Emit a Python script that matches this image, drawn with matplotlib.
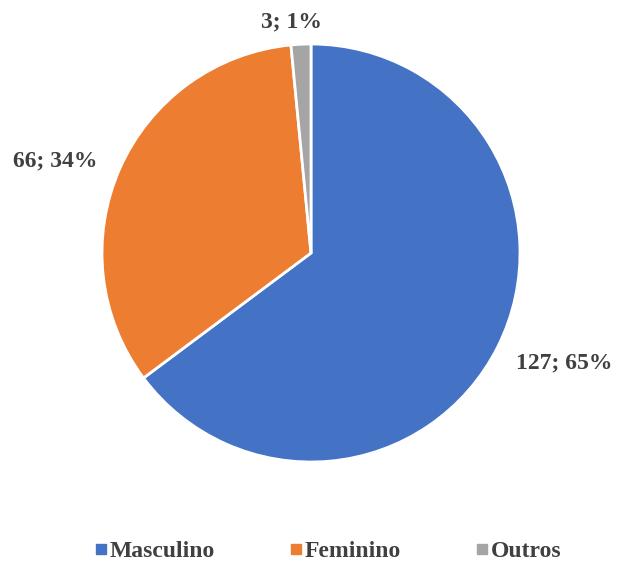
import numpy as np
import matplotlib.pyplot as plt
from matplotlib.lines import Line2D

# dados do gráfico
categorias = ["Masculino", "Feminino", "Outros"]
valores = [127, 66, 3]
percentuais = ["65%", "34%", "1%"]
cores = ["#4472C4", "#ED7D31", "#A5A5A5"]

plt.rcParams['font.family'] = ['Liberation Serif', 'DejaVu Serif']
cor_texto = "#404040"

fig = plt.figure(figsize=(6.17, 5.64), dpi=100)
r_px = 209
cx, cy = 311, 253
ax = fig.add_axes([(cx - r_px) / 617, (564 - cy - r_px) / 564, 2 * r_px / 617, 2 * r_px / 564])

wedges, _ = ax.pie(valores, colors=cores, startangle=90, counterclock=False,
                   wedgeprops=dict(edgecolor="white", linewidth=2))
ax.set_xlim(-1, 1)
ax.set_ylim(-1, 1)

# rótulos "valor; %" fora das fatias
dist = [1.32, 1.30, 1.11]
desvio = [3.2, 4.1, 2.1]
for w, v, p, d, da in zip(wedges, valores, percentuais, dist, desvio):
    ang = np.deg2rad((w.theta1 + w.theta2) / 2 + da)
    ax.text(d * np.cos(ang), d * np.sin(ang), f"{v}; {p}", ha="center", va="center",
            fontsize=17, fontweight="bold", color=cor_texto, clip_on=False)

handles = [Line2D([], [], marker="s", linestyle="", color=c, markersize=6.5) for c in cores]
leg = fig.legend(handles, categorias, loc="center", bbox_to_anchor=(0.53, 0.022), ncol=3,
                 frameon=False, handletextpad=0.05, columnspacing=3.05, handlelength=0.7,
                 prop=dict(size=17, weight="bold"))
for t in leg.get_texts():
    t.set_color(cor_texto)

fig.savefig("out.png", dpi=100)
